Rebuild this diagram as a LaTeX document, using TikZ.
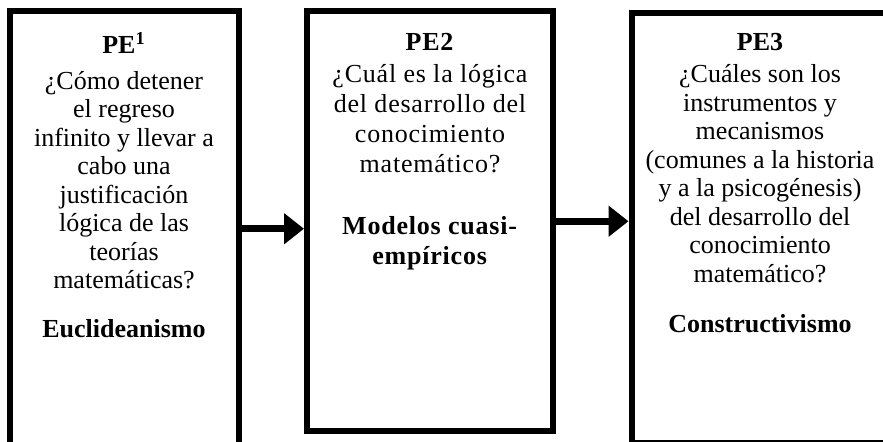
\documentclass[tikz,border=0pt]{standalone}
\usepackage{fontspec}
\setmainfont{Liberation Serif}
\newfontfamily\espaciada[LetterSpace=3]{Liberation Serif}
\usetikzlibrary{arrows.meta}
\tikzstyle{pebox}=[draw,line width=3pt,inner sep=0pt]
\tikzstyle{petext}=[align=center,inner sep=0pt,anchor=north,font=\fontsize{13pt}{14.25pt}\selectfont]
\tikzstyle{flecha}=[line width=3.5pt,-{Triangle[length=10pt,width=15pt]}]
\newcommand{\pxunit}{0.5pt}

\begin{document}
\begin{tikzpicture}[x=\pxunit,y=-\pxunit]
    \useasboundingbox (0,0) rectangle (883,442);
    \clip (0,0) rectangle (883,442);
    \node[pebox,minimum width=114.5pt,minimum height=217.25pt] (pe1) at (124,228.75) {};
    \node[pebox,minimum width=123pt,minimum height=210.25pt] (pe2) at (430,221.25) {};
    \node[pebox,minimum width=128.75pt,minimum height=215pt] (pe3) at (760.25,228) {};
    \node[petext] (t1) at (124,32) {\textbf{PE\textsuperscript{1}}\\[3.75pt]
        ¿Cómo detener\\ el regreso\\ infinito y llevar a\\ cabo una\\
        justificación\\ lógica de las\\ teorías\\ matemáticas?\\[10.25pt]
        \textbf{Euclideanismo}};
    \node[petext,font=\espaciada\fontsize{13pt}{15pt}\selectfont] (t2) at (430,33) {\textbf{PE2}\\[1pt]
        ¿Cuál es la lógica\\ del desarrollo del\\ conocimiento\\ matemático?\\[16pt]
        \textbf{Modelos cuasi-}\\ \textbf{empíricos}};
    \node[petext] (t3) at (760,33) {\textbf{PE3}\\[1.75pt]
        ¿Cuáles son los\\ instrumentos y\\ mecanismos\\ (comunes a la historia\\
        y a la psicogénesis)\\ del desarrollo del\\ conocimiento\\ matemático?\\[10.75pt]
        \textbf{Constructivismo}};
    % flechas entre etapas
    \draw[flecha] (pe1.east) -- (pe1.east -| pe2.west);
    \draw[flecha] (pe2.east) -- (pe2.east -| pe3.west);
\end{tikzpicture}
\end{document}
